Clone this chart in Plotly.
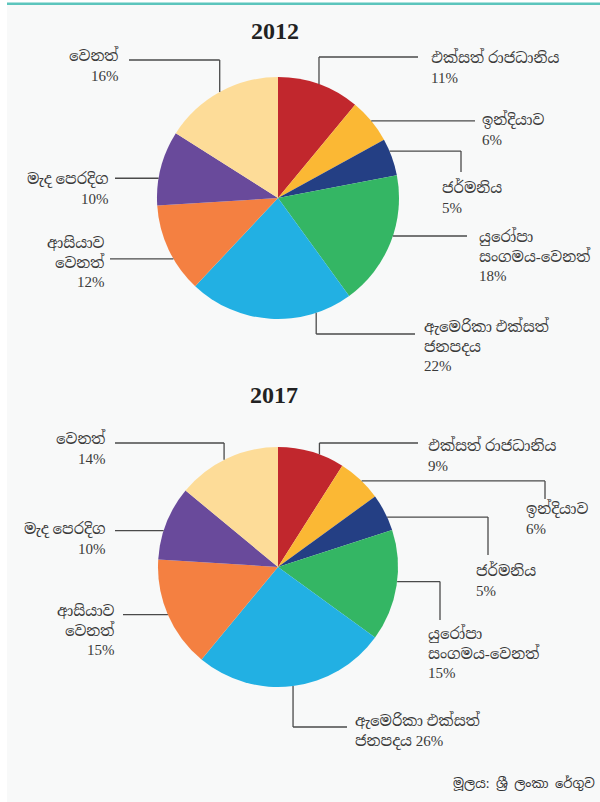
import math
import plotly.graph_objects as go

W, H = 600, 802

# data
regions = ["එක්සත් රාජධානිය", "ඉන්දියාව", "ජර්මනිය", "යුරෝපා සංගමය-වෙනත්",
           "ඇමෙරිකා එක්සත් ජනපදය", "ආසියාව වෙනත්", "මැද පෙරදිග", "වෙනත්"]
share_2012 = [11, 6, 5, 18, 22, 12, 10, 16]
share_2017 = [9, 6, 5, 15, 26, 15, 10, 14]
years = ["2012", "2017"]
colors = ["#c1272d", "#fbb834", "#243f84", "#34b664",
          "#22b0e3", "#f48041", "#694a9b", "#fddc98"]
source = "මූලය: ශ්\u200dරී ලංකා රේගුව"

# how long names wrap inside the labels
wrap = {"යුරෝපා සංගමය-වෙනත්": "යුරෝපා<br>සංගමය-වෙනත්",
        "ඇමෙරිකා එක්සත් ජනපදය": "ඇමෙරිකා එක්සත්<br>ජනපදය",
        "ආසියාව වෙනත්": "ආසියාව<br>වෙනත්"}

# pie placement in pixels: centre x, centre y, radius
pies = [(278, 198, 121), (278, 567, 120)]
title_pos = [(275, 31), (274, 395)]

# per label: angle shift off slice middle, leader route, text x, first line y, side, % inline
label_layout = [
    [(0, [("v", 57), ("h", 418)], 429, 57, "left", False),
     (0, [("h", 475)], 480, 119, "left", False),
     (-3, [("h", 461), ("v", 172)], 440, 187, "left", False),
     (-3.3, [("h", 467)], 477, 235, "left", False),
     (-22, [("v", 334), ("h", 415)], 422, 325, "left", False),
     (-5, [("h", 110)], 107, 242, "right", False),
     (-5, [("h", 115)], 110, 178, "right", False),
     (0, [("v", 60), ("h", 129)], 121, 55, "right", False)],
    [(4, [("v", 443), ("h", 418)], 426, 445, "left", False),
     (1, [("h", 545), ("v", 499)], 524, 508, "left", False),
     (2.4, [("h", 488), ("v", 555)], 474, 570, "left", False),
     (-2, [("h", 440), ("v", 620)], 426, 632, "left", False),
     (0, [("v", 727), ("h", 347)], 353, 720, "left", True),
     (0, [("h", 123)], 117, 610, "right", False),
     (-4, [("h", 115)], 107, 528, "right", False),
     (-1.5, [("v", 443), ("h", 115)], 108, 438, "right", False)],
]

# serif digits, Sinhala glyphs fall through to whatever Sinhala font exists
LABEL_FONT = "Liberation Serif, Noto Serif Sinhala, Noto Sans Sinhala, Iskoola Pota, serif"
FS = 15
LH = FS * 1.3 + 1


def px(x):
    return x / W


def py(y):
    return 1 - y / H


fig = go.Figure()
shapes = [
    dict(type="rect", xref="paper", yref="paper", x0=px(7), x1=1, y0=0, y1=py(5),
         fillcolor="#f8f9f9", line_width=0, layer="below"),
    dict(type="rect", xref="paper", yref="paper", x0=px(7), x1=1, y0=py(5), y1=py(2.5),
         fillcolor="#5cc5bd", line_width=0, layer="below"),
]
annotations = []

for k, shares in enumerate([share_2012, share_2017]):
    cx, cy, r = pies[k]
    fig.add_trace(go.Pie(
        labels=regions, values=shares, sort=False, direction="clockwise", rotation=0,
        marker=dict(colors=colors, line=dict(width=0)),
        textinfo="none", hoverinfo="label+percent", showlegend=False,
        domain=dict(x=[px(cx - r), px(cx + r)], y=[py(cy + r), py(cy - r)]),
    ))
    annotations.append(dict(
        x=px(title_pos[k][0]), y=py(title_pos[k][1]), xref="paper", yref="paper",
        text="<b>%s</b>" % years[k], showarrow=False, xanchor="center", yanchor="middle",
        font=dict(family="Liberation Serif, serif", size=24, color="#222222")))

    total = sum(shares)
    cum = 0
    for i, v in enumerate(shares):
        shift, route, tx, ty, side, inline = label_layout[k][i]
        mid = (cum + v / 2) / total * 360 + shift
        cum += v
        a = math.radians(mid)
        # leader: from the slice edge along the route
        x, y = cx + r * math.sin(a), cy - r * math.cos(a)
        pts = [(x, y)]
        for d, val in route:
            if d == "v":
                y = val
            else:
                x = val
            pts.append((x, y))
        for (x0, y0), (x1, y1) in zip(pts[:-1], pts[1:]):
            shapes.append(dict(type="line", xref="paper", yref="paper",
                               x0=px(x0), y0=py(y0), x1=px(x1), y1=py(y1),
                               line=dict(color="#4a4a4a", width=1.3)))

        name = wrap.get(regions[i], regions[i])
        text = name + (" " if inline else "<br>") + "%d%%" % v
        n = text.count("<br>") + 1
        annotations.append(dict(
            x=px(tx), y=py(ty + (n - 1) * LH / 2), xref="paper", yref="paper",
            text=text, showarrow=False, align=side, xanchor=side, yanchor="middle",
            font=dict(family=LABEL_FONT, size=FS, color="#3a3a3a")))

annotations.append(dict(
    x=px(597), y=py(783), xref="paper", yref="paper", text=source, showarrow=False,
    xanchor="right", yanchor="middle",
    font=dict(family="Noto Sans Sinhala, Noto Sans, sans-serif", size=13, color="#333333")))

fig.update_layout(
    width=W, height=H, margin=dict(l=0, r=0, t=0, b=0),
    paper_bgcolor="white", plot_bgcolor="white",
    shapes=shapes, annotations=annotations,
)
fig.write_html("out.html", config={"displayModeBar": False},
               post_script="document.body.style.margin='0px';")
